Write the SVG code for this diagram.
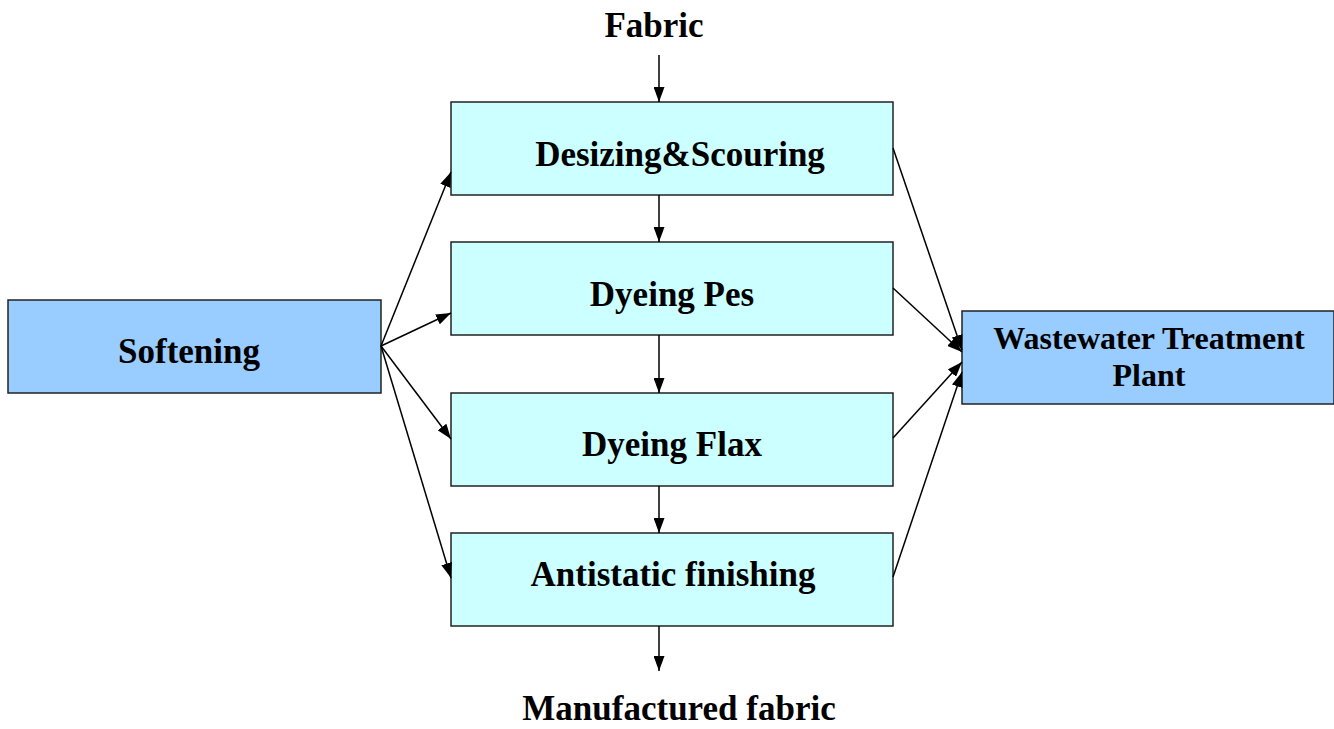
<svg xmlns="http://www.w3.org/2000/svg" width="1334" height="729" viewBox="0 0 1334 729">
  <style>
    .step { fill: #CCFFFF; stroke: #222; stroke-width: 1.5; }
    .side { fill: #99CCFF; stroke: #222; stroke-width: 1.5; }
    .lbl { font-family: "Liberation Serif", "Times New Roman", serif; font-weight: bold; font-size: 35px; fill: #000; text-anchor: middle; }
    .wtp { font-size: 32px; }
    .link { stroke: #000; stroke-width: 1.5; fill: none; marker-end: url(#head); }
  </style>
  <defs>
    <marker id="head" viewBox="0 0 15 11" refX="15" refY="5.5" markerWidth="15" markerHeight="11" markerUnits="userSpaceOnUse" orient="auto">
      <path d="M0,0 L15,5.5 L0,11 Z" fill="#000"/>
    </marker>
  </defs>
  <rect width="1334" height="729" fill="#fff"/>

  <text class="lbl" x="654" y="37">Fabric</text>
  <text class="lbl" x="679" y="720">Manufactured fabric</text>

  <g id="softening">
    <rect class="side" x="8" y="300" width="373" height="93"/>
    <text class="lbl" x="189" y="363">Softening</text>
  </g>
  <g id="desizing">
    <rect class="step" x="451" y="102" width="442" height="93"/>
    <text class="lbl" x="680" y="166">Desizing&amp;Scouring</text>
  </g>
  <g id="dyeing-pes">
    <rect class="step" x="451" y="242" width="442" height="93"/>
    <text class="lbl" x="672" y="306">Dyeing Pes</text>
  </g>
  <g id="dyeing-flax">
    <rect class="step" x="451" y="393" width="442" height="93"/>
    <text class="lbl" x="672" y="456">Dyeing Flax</text>
  </g>
  <g id="antistatic">
    <rect class="step" x="451" y="533" width="442" height="93"/>
    <text class="lbl" x="673" y="586">Antistatic finishing</text>
  </g>
  <g id="wwtp">
    <rect class="side" x="962" y="311" width="372" height="93"/>
    <text class="lbl wtp" x="1149" y="349">Wastewater Treatment</text>
    <text class="lbl wtp" x="1149" y="386">Plant</text>
  </g>

  <g id="connectors">
    <!-- main line -->
    <line class="link" x1="659" y1="55" x2="659" y2="102"/>
    <line class="link" x1="659" y1="195" x2="659" y2="242"/>
    <line class="link" x1="659" y1="335" x2="659" y2="393"/>
    <line class="link" x1="659" y1="486" x2="659" y2="533"/>
    <line class="link" x1="659" y1="626" x2="659" y2="671"/>
    <!-- softening feeds -->
    <line class="link" x1="381" y1="346" x2="451" y2="172"/>
    <line class="link" x1="381" y1="346" x2="451" y2="313"/>
    <line class="link" x1="381" y1="346" x2="451" y2="439"/>
    <line class="link" x1="381" y1="346" x2="451" y2="578"/>
    <!-- wastewater drains -->
    <line class="link" x1="893" y1="148" x2="962" y2="350"/>
    <line class="link" x1="893" y1="288" x2="962" y2="352"/>
    <line class="link" x1="893" y1="438" x2="962" y2="362"/>
    <line class="link" x1="893" y1="577" x2="962" y2="372"/>
  </g>
</svg>
